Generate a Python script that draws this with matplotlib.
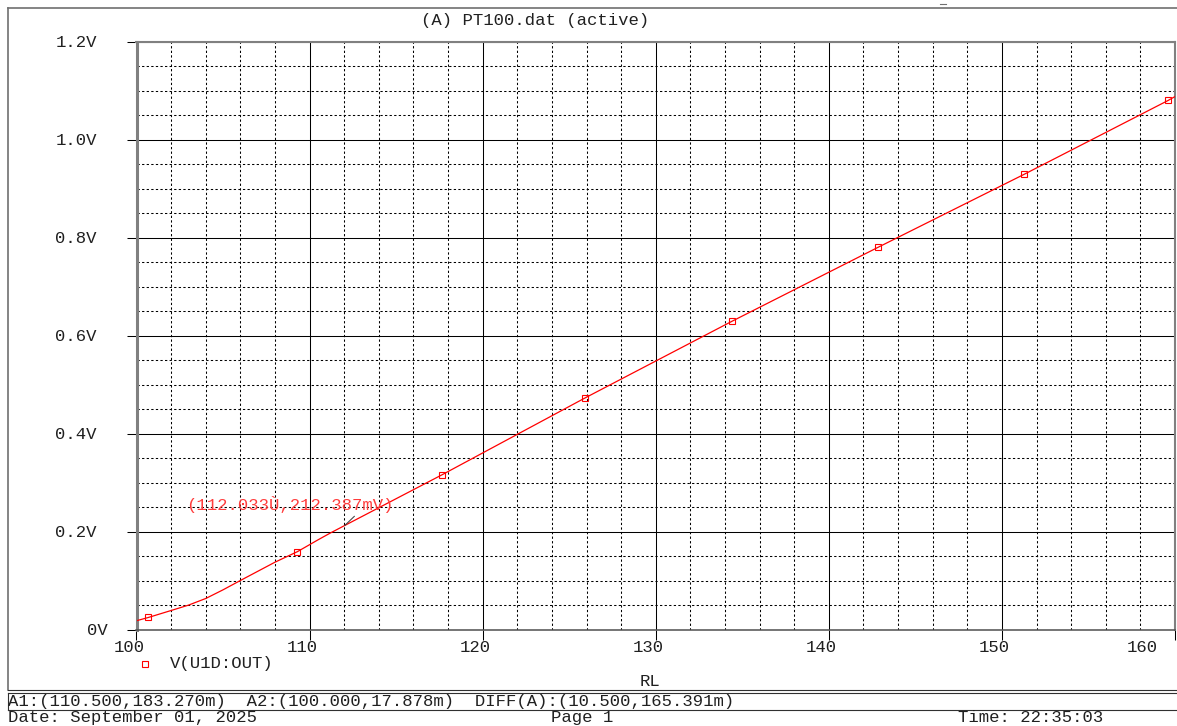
import matplotlib
matplotlib.use("Agg")
import matplotlib.pyplot as plt
from matplotlib.lines import Line2D
from matplotlib.ticker import MultipleLocator
import matplotlib.transforms as mtransforms

plt.rcParams['font.family'] = ['Liberation Mono', 'DejaVu Sans Mono']

# Данные кривой V(U1D:OUT) от RL
rl = [100.0, 100.68, 102.0, 103.0, 104.0, 105.0, 106.0, 108.0, 109.3, 110.5,
      111.2, 112.033, 117.66, 125.93, 134.39, 142.83, 151.27, 159.6, 160.0]
v_out = [0.0179, 0.0245, 0.0388, 0.0497, 0.0633, 0.081, 0.100, 0.1374, 0.159, 0.1833,
         0.197, 0.2124, 0.316, 0.473, 0.629, 0.780, 0.929, 1.080, 1.088]

# Маркеры
rl_marks = [100.68, 109.3, 117.66, 125.93, 134.39, 142.83, 151.27, 159.6]
v_marks = [0.0245, 0.159, 0.316, 0.473, 0.629, 0.780, 0.929, 1.080]

x_ticks = [100, 110, 120, 130, 140, 150, 160]
y_ticks = [0.0, 0.2, 0.4, 0.6, 0.8, 1.0, 1.2]
y_labels = ["0V", "0.2V", "0.4V", "0.6V", "0.8V", "1.0V", "1.2V"]

cursor = (112.033, 0.212387)
cursor_text = "(112.033Ù,212.387mV)"

W, H = 1177, 726
FS = 12.4
TXT = '#202020'


def fx(x):
    return x / W


def fy(y):
    return 1 - y / H


fig = plt.figure(figsize=(W / 100, H / 100), dpi=100)
left, right, top, bottom = 136.5, 1175.0, 41.7, 629.5
ax = fig.add_axes([fx(left), fy(bottom), (right - left) / W, (bottom - top) / H])

ax.plot(rl, v_out, color='#ff0000', lw=0.9, zorder=3)
ax.plot(rl_marks, v_marks, 's', ms=5, mfc='none', mec='#ff0000', mew=0.8, zorder=4)

ax.set_xlim(100, 160)
ax.set_ylim(0, 1.2)
ax.xaxis.set_major_locator(MultipleLocator(10))
ax.xaxis.set_minor_locator(MultipleLocator(2))
ax.yaxis.set_major_locator(MultipleLocator(0.2))
ax.yaxis.set_minor_locator(MultipleLocator(0.05))
ax.grid(which='major', color='black', lw=0.75, ls='-', zorder=1)
ax.grid(which='minor', color='black', lw=0.75, ls=(0, (2.2, 2.2)), zorder=1)
ax.set_axisbelow(True)

ax.tick_params(which='major', direction='out', length=7.5, width=0.75, color='black',
               labelbottom=False, labelleft=False)
ax.tick_params(which='minor', length=0)

ax.spines['left'].set_color('#808080')
ax.spines['left'].set_linewidth(2.2)
for side in ['top', 'right']:
    ax.spines[side].set_color('#808080')
    ax.spines[side].set_linewidth(1.5)
ax.spines['bottom'].set_color('#505050')
ax.spines['bottom'].set_linewidth(1.1)

# Подписи осей (последняя сдвинута внутрь рамки)
for xv in x_ticks:
    dx = -32.5 if xv == x_ticks[-1] else -7.5
    tr = mtransforms.offset_copy(ax.get_xaxis_transform(), fig=fig, x=dx, y=-22.5, units='dots')
    ax.text(xv, 0, str(xv), transform=tr, ha='center', va='baseline', fontsize=FS, color=TXT)
for yv, lab in zip(y_ticks, y_labels):
    dx = -28.5 if lab == "0V" else -39.5
    tr = mtransforms.offset_copy(ax.get_yaxis_transform(), fig=fig, x=dx, y=-5.5, units='dots')
    ax.text(0, yv, lab, transform=tr, ha='right', va='baseline', fontsize=FS, color=TXT)

# Курсор
ax.annotate(cursor_text, xy=cursor, xytext=(-159, 15), textcoords='offset pixels',
            ha='left', va='baseline', fontsize=FS, color='#ff3c3c', zorder=5,
            arrowprops=dict(arrowstyle='-', color='#404040', lw=0.75, shrinkA=0, shrinkB=0,
                            relpos=(0.874, 0.55)))

# Тексты
fig.text(fx(421), fy(25), "(A) PT100.dat (active)", fontsize=FS, color=TXT, va='baseline')
fig.text(fx(650), fy(686.5), "RL", fontsize=FS, color=TXT, ha='center', va='baseline')
fig.add_artist(Line2D([fx(145)], [fy(664)], marker='s', ms=5, mfc='none', mec='#ff0000', mew=0.8))
fig.text(fx(170), fy(668), "V(U1D:OUT)", fontsize=FS, color=TXT, va='baseline')
fig.text(fx(8), fy(706), "A1:(110.500,183.270m)  A2:(100.000,17.878m)  DIFF(A):(10.500,165.391m)",
         fontsize=FS, color=TXT, va='baseline')
fig.text(fx(8), fy(722), "Date: September 01, 2025", fontsize=FS, color=TXT, va='baseline')
fig.text(fx(551), fy(722), "Page 1", fontsize=FS, color=TXT, va='baseline')
fig.text(fx(958), fy(722), "Time: 22:35:03", fontsize=FS, color=TXT, va='baseline')

# Рамки
fig.add_artist(Line2D([fx(8), fx(8)], [fy(7.5), fy(690)], color='#707070', lw=1.2))
fig.add_artist(Line2D([fx(8), fx(1177)], [fy(7.5), fy(7.5)], color='#707070', lw=1.2))
fig.add_artist(Line2D([fx(940), fx(946)], [fy(3.5), fy(3.5)], color='#707070', lw=0.8))
for yl in [690, 693, 710]:
    fig.add_artist(Line2D([fx(8), fx(1177)], [fy(yl), fy(yl)], color='#303030', lw=0.8))
fig.add_artist(Line2D([fx(8), fx(8)], [fy(693), fy(710)], color='#303030', lw=0.8))

fig.savefig("out.png", dpi=100)
